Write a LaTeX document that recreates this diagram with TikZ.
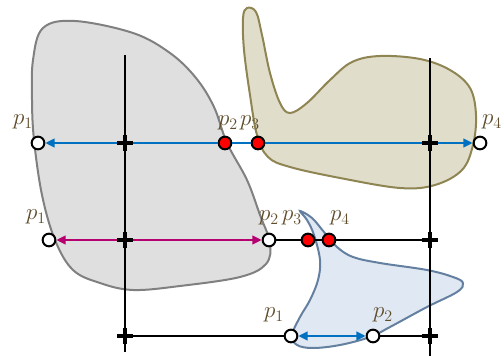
\documentclass[tikz,border=0pt]{standalone}
\usepackage{amsmath}
\usetikzlibrary{arrows.meta}
\definecolor{rayblue}{HTML}{0070C0}
\definecolor{raymag}{HTML}{B5006F}
\definecolor{lblbrown}{HTML}{5E4C2A}

\begin{document}
\begin{tikzpicture}[x=0.75pt, y=-0.75pt,
    vertex/.style={circle, draw, line width=1.5pt, fill=white, minimum size=9.5pt, inner sep=0pt},
    hit/.style={vertex, fill=red},
    lbl/.style={text=lblbrown, font=\fontsize{17}{19}\selectfont},
    ray/.style={line width=2.2pt, -{Triangle[length=7pt, width=6.5pt]}},
    cross/.style={line width=2.4pt}]
    \useasboundingbox (0,0) rectangle (504,356);

    % shapes
    \draw[line width=1.5pt, draw=gray, fill=gray!25] plot[smooth cycle, tension=0.6] coordinates {
        (33,60) (43,28) (75,21) (133,33) (170,53) (196,78) (214,107) (227,143) (247,180) (260,215)
        (270,243) (266,264) (240,277) (180,286) (133,290) (100,283) (73,270) (55,240) (42,195) (34,140) (32,100)};
    \draw[line width=1.5pt, draw={rgb,255:red,142;green,133;blue,82}, fill={rgb,255:red,224;green,221;blue,203}] plot[smooth cycle, tension=0.6] coordinates {
        (247,8) (256,12) (262,35) (270,73) (280,103) (290,113) (307,103) (330,80) (352,62) (380,56) (420,59)
        (450,70) (470,88) (476,115) (473,145) (462,170) (435,185) (400,188) (340,178) (290,167) (268,157)
        (257,135) (250,95) (244,50) (243,18)};
    \draw[line width=1.5pt, draw={rgb,255:red,100;green,128;blue,160}, fill={rgb,255:red,224;green,232;blue,243}] plot[smooth cycle, tension=0.6] coordinates {
        (300,211) (307,220) (314,235) (320,260) (318,280) (310,300) (300,317) (292,335) (297,345) (313,348)
        (340,345) (370,337) (390,327) (427,307) (457,292) (463,283) (453,277) (427,270) (380,263) (353,257)
        (337,247) (324,232) (312,218)};

    % grid lines
    \coordinate (v1t) at (125,55);
    \coordinate (v1b) at (125,352);
    \coordinate (v2t) at (430,58);
    \coordinate (v2b) at (430,356);
    \draw[line width=1.2pt] (v1t) -- (v1b);
    \draw[line width=1.2pt] (v2t) -- (v2b);
    \foreach \x/\y [count=\i] in {125/143, 430/143, 125/240, 430/240, 125/336, 430/336}
        \coordinate (c\i) at (\x,\y);

    % row 1
    \node[vertex] (a1) at (38,143) {};
    \node[hit] (a2) at (225,143) {};
    \node[hit] (a3) at (258,143) {};
    \node[vertex] (a4) at (480,143) {};
    \draw[ray, rayblue] (a2) -- (a1);
    \draw[line width=2.2pt, rayblue] (a2) -- (a3);
    \draw[ray, rayblue] (a3) -- (a4);

    % row 2
    \node[vertex] (b1) at (49,240) {};
    \node[vertex] (b2) at (269,240) {};
    \node[hit] (b3) at (308,240) {};
    \node[hit] (b4) at (329,240) {};
    \draw[line width=0.8pt] (b2) -- (b3) -- (b4) -- (c4);
    \draw[ray, raymag, {Triangle[length=7pt, width=6.5pt]}-{Triangle[length=7pt, width=6.5pt]}] (b1) -- (b2);

    % row 3
    \node[vertex] (d1) at (291,336) {};
    \node[vertex] (d2) at (373,336) {};
    \draw[line width=0.8pt] (c5) -- (d1);
    \draw[line width=0.8pt] (d2) -- (c6);
    \draw[ray, rayblue, {Triangle[length=7pt, width=6.5pt]}-{Triangle[length=7pt, width=6.5pt]}] (d1) -- (d2);

    % crosses
    \foreach \i in {1,...,6} {
        \draw[cross] ([xshift=-6pt]c\i) -- ([xshift=6pt]c\i);
        \draw[cross] ([yshift=-6pt]c\i) -- ([yshift=6pt]c\i);
    }

    % labels
    \node[lbl] (la1) at (23,122) {$p_1$};
    \node[lbl] (la2) at (228,123) {$p_2$};
    \node[lbl] (la3) at (250,123) {$p_3$};
    \node[lbl] (la4) at (492,122) {$p_4$};
    \node[lbl] (lb1) at (36,217) {$p_1$};
    \node[lbl] (lb2) at (269,218) {$p_2$};
    \node[lbl] (lb3) at (292,218) {$p_3$};
    \node[lbl] (lb4) at (340,218) {$p_4$};
    \node[lbl] (ld1) at (274,315) {$p_1$};
    \node[lbl] (ld2) at (383,315) {$p_2$};
\end{tikzpicture}
\end{document}
